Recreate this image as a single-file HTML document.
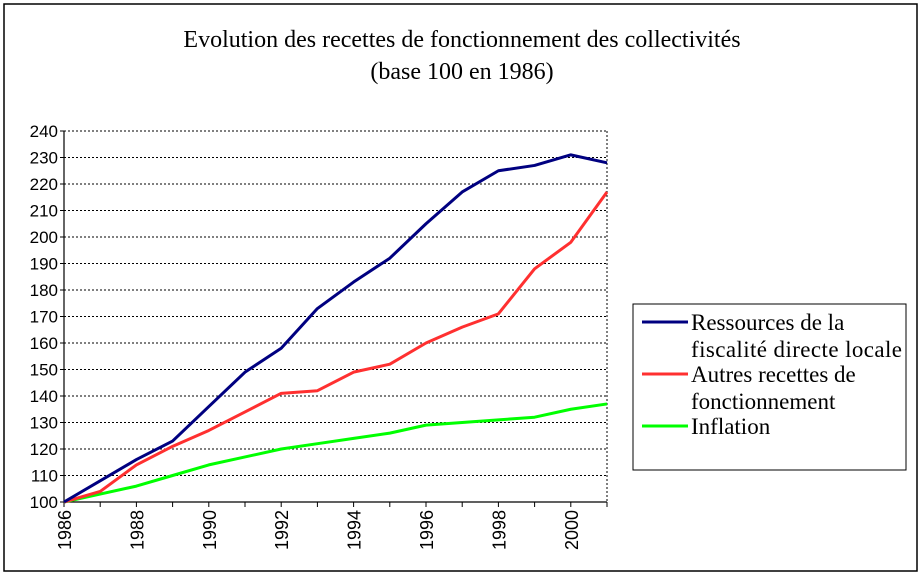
<!DOCTYPE html>
<html><head><meta charset="utf-8"><style>
body{margin:0;background:#fff}
svg{display:block}
</style></head><body>
<svg width="923" height="576" xmlns="http://www.w3.org/2000/svg">
<rect x="4" y="4" width="913" height="567" fill="#fff" stroke="#000" stroke-width="1.5"/>
<text x="462" y="47" text-anchor="middle" font-family="Liberation Serif, serif" font-size="24">Evolution des recettes de fonctionnement des collectivités</text>
<text x="462" y="79" text-anchor="middle" font-family="Liberation Serif, serif" font-size="24">(base 100 en 1986)</text>
<g id="grid"></g>
<g id="axes"></g>
<g id="series"></g>
<g>
<rect x="633" y="304" width="273" height="166" fill="#fff" stroke="#000" stroke-width="1"/>
<line x1="642" y1="322" x2="688" y2="322" stroke="#000080" stroke-width="3"/>
<text x="691" y="330" font-family="Liberation Serif, serif" font-size="23">Ressources de la</text>
<text x="691" y="357" font-family="Liberation Serif, serif" font-size="23" textLength="211">fiscalité directe locale</text>
<line x1="642" y1="374" x2="688" y2="374" stroke="#ff3030" stroke-width="3"/>
<text x="691" y="382" font-family="Liberation Serif, serif" font-size="23">Autres recettes de</text>
<text x="691" y="409" font-family="Liberation Serif, serif" font-size="23">fonctionnement</text>
<line x1="642" y1="426" x2="688" y2="426" stroke="#00ff00" stroke-width="3"/>
<text x="691" y="434" font-family="Liberation Serif, serif" font-size="23">Inflation</text>
</g>
</svg>
<script>
const years=[1986,1987,1988,1989,1990,1991,1992,1993,1994,1995,1996,1997,1998,1999,2000,2001];
const ressources=[100,108,116,123,136,149,158,173,183,192,205,217,225,227,231,228];
const autres=[100,104,114,121,127,134,141,142,149,152,160,166,171,188,198,217];
const inflation=[100,103,106,110,114,117,120,122,124,126,129,130,131,132,135,137];
const yTicks=[100,110,120,130,140,150,160,170,180,190,200,210,220,230,240];
const xLabels=[1986,1988,1990,1992,1994,1996,1998,2000];
const NS='http://www.w3.org/2000/svg';
const X0=64,X1=607,Y0=502,Y1=131;
function xs(y){return X0+(y-1986)/(2001-1986)*(X1-X0);}
function ys(v){return Y0-(v-100)/(240-100)*(Y0-Y1);}
function mk(tag,attrs,parent){const e=document.createElementNS(NS,tag);for(const k in attrs)e.setAttribute(k,attrs[k]);parent.appendChild(e);return e;}
const grid=document.getElementById('grid'),axes=document.getElementById('axes'),ser=document.getElementById('series');
yTicks.forEach(v=>{
  if(v>100){const l=mk('line',{x1:X0,x2:X1,y1:ys(v),y2:ys(v),stroke:'#000','stroke-width':1,'stroke-dasharray':'2,2'},grid);
  
  }
  const t=mk('text',{x:X0-6,y:ys(v)+6,'text-anchor':'end','font-family':'Liberation Sans, sans-serif','font-size':'17'},axes);
  t.textContent=v;
  
  
  const tk=mk('line',{x1:X0-4,x2:X0,y1:ys(v),y2:ys(v),stroke:'#000'},axes);
  
  
});
const rb=mk('line',{x1:X1,x2:X1,y1:Y1,y2:Y0,stroke:'#000','stroke-dasharray':'2,2'},grid);


const ya=mk('line',{x1:X0,x2:X0,y1:Y1,y2:Y0,stroke:'#000','stroke-width':1.2},axes);


const xa=mk('line',{x1:X0,x2:X1,y1:Y0,y2:Y0,stroke:'#000','stroke-width':1.2},axes);


years.forEach(y=>{
  const tk=mk('line',{x1:xs(y),x2:xs(y),y1:Y0,y2:Y0+5,stroke:'#000'},axes);
  
  
});
xLabels.forEach(y=>{
  const x=xs(y)+7,yy=Y0+8;
  const t=mk('text',{x:x,y:yy,'text-anchor':'end','font-family':'Liberation Sans, sans-serif','font-size':'18',transform:'rotate(-90 '+x+' '+yy+')'},axes);
  t.textContent=y;
  
  
});
function line(data,color,name){
  const p=mk('polyline',{points:data.map((v,i)=>xs(years[i])+','+ys(v)).join(' '),fill:'none',stroke:color,'stroke-width':3,'stroke-linejoin':'round'},ser);
  
  
}
line(inflation,'#00ff00','series-inflation');
line(autres,'#ff3030','series-autres-recettes');
line(ressources,'#000080','series-ressources-fiscalite');
</script>
</body></html>
